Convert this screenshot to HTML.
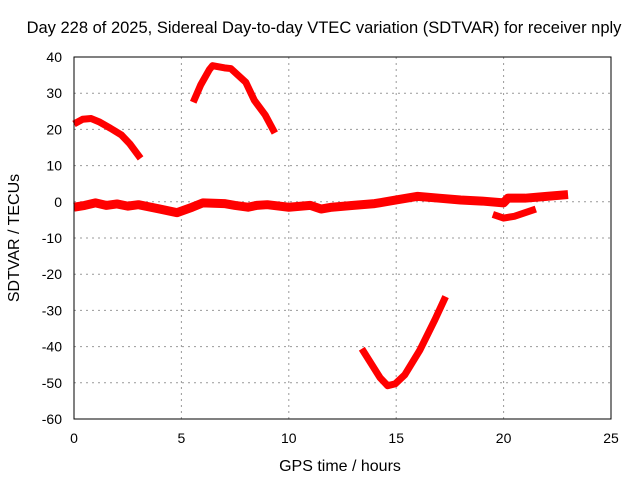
<!DOCTYPE html>
<html><head><meta charset="utf-8"><style>
body{margin:0;background:#fff}
svg{display:block;font-family:"Liberation Sans",sans-serif}
</style></head><body>
<svg width="640" height="480" id="c">
<text x="324" y="33" text-anchor="middle" font-size="16.5">Day 228 of 2025, Sidereal Day-to-day VTEC variation (SDTVAR) for receiver nply</text>
<text x="340" y="471" text-anchor="middle" font-size="16">GPS time / hours</text>
<text transform="translate(19,238) rotate(-90)" text-anchor="middle" font-size="16">SDTVAR / TECUs</text>
<g id="grid"></g><g id="series"></g>
<rect x="74" y="57" width="537" height="362" fill="none" stroke="#000" stroke-width="1"/>
</svg>
<script>
const xTicks=[0,5,10,15,20,25];
const yTicks=[40,30,20,10,0,-10,-20,-30,-40,-50,-60];
const segA=[[0,21.5],[0.4,22.8],[0.8,23],[1.2,22],[1.7,20.3],[2.2,18.5],[2.6,16],[3.1,12]];
const segB=[[5.55,27.5],[5.9,32.3],[6.3,36.5],[6.45,37.6],[7,37],[7.3,36.8],[8,33],[8.4,28],[8.9,24],[9.35,19]];
const segMain=[[0,-1.5],[0.5,-1],[1,-0.3],[1.5,-1],[2,-0.6],[2.5,-1.2],[3,-0.8],[4,-2],[4.8,-3],[5.5,-1.5],[6,-0.3],[7,-0.5],[7.5,-1],[8.1,-1.5],[8.5,-1],[9,-0.8],[10,-1.5],[11,-1],[11.5,-2],[12,-1.5],[13,-1],[14,-0.5],[15,0.5],[16,1.5],[17,1],[18,0.5],[19,0.2],[20,-0.3],[20.2,1],[21,1],[22,1.5],[23,2]];
const segD=[[19.5,-3.5],[20,-4.5],[20.5,-4],[21,-3],[21.5,-2]];
const segE=[[13.4,-40.6],[14.25,-48.6],[14.6,-50.8],[14.95,-50.3],[15.4,-47.8],[16.1,-41],[16.8,-32.6],[17.3,-26.2]];
const X=v=>74+v/25*537, Y=v=>57+(40-v)/100*362;
const NS="http://www.w3.org/2000/svg", g=document.getElementById('grid'), s=document.getElementById('series');
function mk(t,a,p){const e=document.createElementNS(NS,t);for(const k in a)e.setAttribute(k,a[k]);p.appendChild(e);return e;}
xTicks.forEach(v=>{
 if(v>0&&v<25){const l=mk('line',{x1:X(v),x2:X(v),y1:57,y2:419,stroke:'#999','stroke-dasharray':'2,4'},g);
 
 }
 const t=mk('text',{x:X(v),y:443,'text-anchor':'middle','font-size':14},g);t.textContent=v;
 
 
});
yTicks.forEach(v=>{
 if(v<40&&v>-60){const l=mk('line',{x1:74,x2:611,y1:Y(v),y2:Y(v),stroke:'#999','stroke-dasharray':'2,4'},g);
 
 }
 const t=mk('text',{x:62,y:Y(v)+5,'text-anchor':'end','font-size':14},g);t.textContent=v;
 
 
});
[segA,segB,segMain,segD,segE].forEach((d,i)=>{
 const p=mk('polyline',{points:d.map(q=>X(q[0])+','+Y(q[1])).join(' '),fill:'none',stroke:'#f00','stroke-width':i==2?9:7,'stroke-linejoin':'round'},s);
 
 
});
</script>
</body></html>
